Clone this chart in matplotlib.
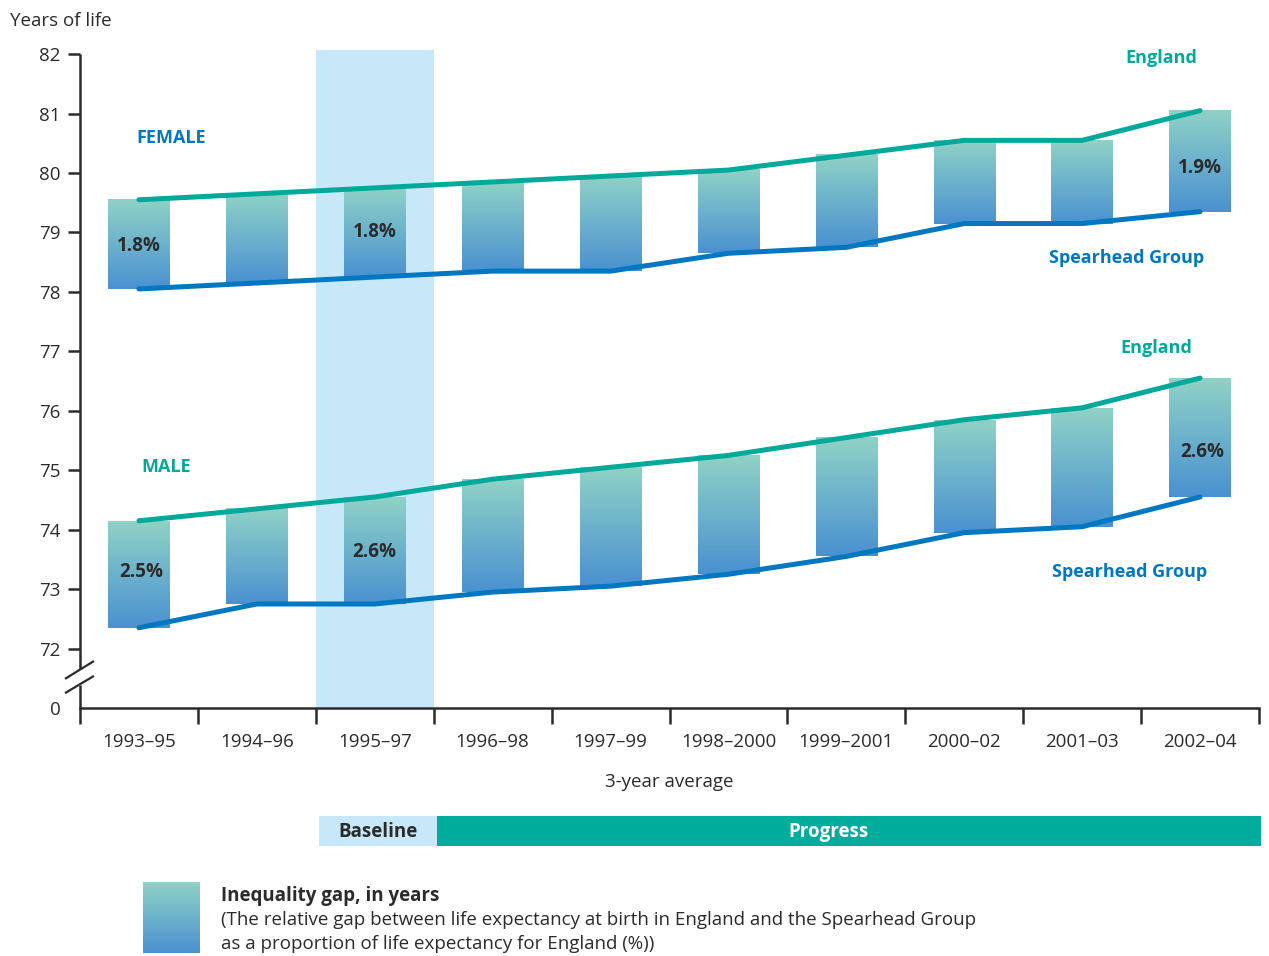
import numpy as np
import matplotlib
matplotlib.use("Agg")
import matplotlib.pyplot as plt
import matplotlib.patches as mpatches
from matplotlib.colors import LinearSegmentedColormap

plt.rcParams["font.family"] = ["Open Sans", "DejaVu Sans"]

# Data
periods = ["1993–95", "1994–96", "1995–97", "1996–98", "1997–99",
           "1998–2000", "1999–2001", "2000–02", "2001–03", "2002–04"]
female_england = [79.55, 79.65, 79.75, 79.85, 79.95, 80.05, 80.3, 80.55, 80.55, 81.05]
female_spearhead = [78.05, 78.15, 78.25, 78.35, 78.35, 78.65, 78.75, 79.15, 79.15, 79.35]
male_england = [74.15, 74.35, 74.55, 74.85, 75.05, 75.25, 75.55, 75.85, 76.05, 76.55]
male_spearhead = [72.35, 72.75, 72.75, 72.95, 73.05, 73.25, 73.55, 73.95, 74.05, 74.55]

# relative gap labels: index -> text
female_gap_labels = {0: "1.8%", 2: "1.8%", 9: "1.9%"}
male_gap_labels = {0: "2.5%", 2: "2.6%", 9: "2.6%"}

TEAL = "#00a99a"
BLUE = "#0077c1"
BASE_BLUE = "#c6e8f9"
DARK = "#2b2b2b"
grad_cmap = LinearSegmentedColormap.from_list("gap", ["#4a91d1", "#8fd2c6"])
gradient = np.linspace(0, 1, 256).reshape(-1, 1)

fig = plt.figure(figsize=(12.69, 9.56), dpi=100)
ax = fig.add_axes([80 / 1269, 1 - 708 / 956, 1179 / 1269, 658 / 956])

x = np.arange(len(periods))
BAR_W = 0.52

# baseline shading
ax.axvspan(1.5, 2.5, color=BASE_BLUE, zorder=0, lw=0)


def draw_gap(eng, spear):
    for i in x:
        ax.imshow(gradient, cmap=grad_cmap, origin="lower", aspect="auto",
                  extent=(i - BAR_W / 2, i + BAR_W / 2, spear[i], eng[i]), zorder=1)
    ax.plot(x, eng, color=TEAL, lw=3.6, solid_capstyle="round", solid_joinstyle="round", zorder=3)
    ax.plot(x, spear, color=BLUE, lw=3.6, solid_capstyle="round", solid_joinstyle="round", zorder=3)


draw_gap(female_england, female_spearhead)
draw_gap(male_england, male_spearhead)

label_pos_f = {0: 78.78, 2: 79.01, 9: 80.09}
label_pos_m = {0: 73.28, 2: 73.63, 9: 75.30}
for i, t in female_gap_labels.items():
    ax.text(i, label_pos_f[i], t, ha="center", va="center", fontsize=13.5,
            fontweight="bold", color=DARK, zorder=4)
for i, t in male_gap_labels.items():
    ax.text(i + (0.02 if i != 2 else 0), label_pos_m[i], t, ha="center", va="center",
            fontsize=13.5, fontweight="bold", color=DARK, zorder=4)

# series labels
lab = dict(fontsize=13, fontweight="bold", ha="center", va="center")
ax.text(8.67, 81.94, "England", color=TEAL, **lab)
ax.text(8.38, 78.57, "Spearhead Group", color=BLUE, **lab)
ax.text(8.63, 77.05, "England", color=TEAL, **lab)
ax.text(8.40, 73.28, "Spearhead Group", color=BLUE, **lab)
ax.text(0.27, 80.59, "FEMALE", color=BLUE, **lab)
ax.text(0.23, 75.05, "MALE", color=TEAL, **lab)

# axes limits and spines
ax.set_xlim(-0.5, 9.5)
ax.set_ylim(71, 82.07)
for s in ["top", "right", "left"]:
    ax.spines[s].set_visible(False)
ax.spines["bottom"].set_linewidth(1.8)
ax.spines["bottom"].set_color(DARK)

# broken y-axis drawn by hand
ytr = ax.get_yaxis_transform()
ax.plot([0, 0], [71.65, 82], color=DARK, lw=1.8, transform=ytr, clip_on=False, solid_capstyle="butt")
ax.plot([0, 0], [71.0, 71.39], color=DARK, lw=1.8, transform=ytr, clip_on=False, solid_capstyle="butt")
ax.plot([-0.0119, 0.011], [71.5, 71.78], color=DARK, lw=1.6, transform=ytr, clip_on=False)
ax.plot([-0.0119, 0.011], [71.26, 71.53], color=DARK, lw=1.6, transform=ytr, clip_on=False)

yt = list(range(71, 83))
ax.set_yticks(yt)
ax.set_yticklabels(["0"] + [str(v) for v in yt[1:]])
ax.tick_params(axis="y", length=8.6, width=1.8, color=DARK, pad=5.5, labelsize=13.5, labelcolor=DARK)
ax.yaxis.get_major_ticks()[0].tick1line.set_visible(False)

ax.set_xticks(x)
ax.set_xticklabels(periods)
ax.set_xticks(np.arange(-0.5, 10, 1.0), minor=True)
ax.tick_params(axis="x", which="major", length=0, pad=18, labelsize=13.5, labelcolor=DARK)
ax.tick_params(axis="x", which="minor", length=11.5, width=1.8, color=DARK)

ax.text(0.5, -0.113, "3-year average", transform=ax.transAxes, ha="center", va="center",
        fontsize=13.5, color=DARK)

fig.text(10 / 1269, 1 - 21 / 956, "Years of life", ha="left", va="center", fontsize=13.5, color=DARK)

# Baseline / Progress band
btr = ax.get_xaxis_transform()
ax.add_patch(mpatches.Rectangle((1.53, -0.2097), 1.0, 0.0456, transform=btr,
                                facecolor=BASE_BLUE, lw=0, clip_on=False))
ax.add_patch(mpatches.Rectangle((2.53, -0.2097), 6.99, 0.0456, transform=btr,
                                facecolor="#00ad9c", lw=0, clip_on=False))
ax.text(2.03, -0.1885, "Baseline", transform=btr, ha="center", va="center",
        fontsize=13.5, fontweight="bold", color=DARK)
ax.text(5.85, -0.1885, "Progress", transform=btr, ha="center", va="center",
        fontsize=13.5, fontweight="bold", color="white")

# legend swatch
lax = fig.add_axes([143 / 1269, 1 - 953 / 956, 57 / 1269, 71 / 956])
lax.imshow(gradient, cmap=grad_cmap, origin="lower", aspect="auto")
lax.axis("off")
fig.text(221 / 1269, 1 - 896 / 956, "Inequality gap, in years", ha="left", va="center",
         fontsize=13.5, fontweight="bold", color=DARK)
fig.text(221 / 1269, 1 - 920 / 956,
         "(The relative gap between life expectancy at birth in England and the Spearhead Group",
         ha="left", va="center", fontsize=13.5, color=DARK)
fig.text(221 / 1269, 1 - 944 / 956, "as a proportion of life expectancy for England (%))",
         ha="left", va="center", fontsize=13.5, color=DARK)

fig.savefig("out.png", dpi=100)
